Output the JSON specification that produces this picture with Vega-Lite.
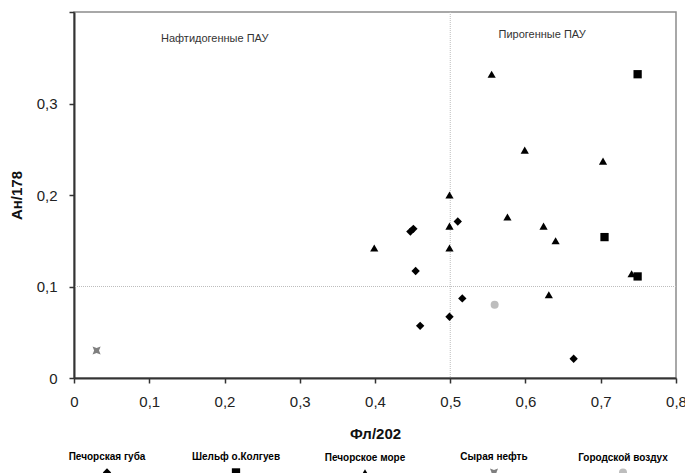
{
  "$schema": "https://vega.github.io/schema/vega-lite/v6.json",
  "width": 602,
  "height": 366,
  "autosize": {"type": "none"},
  "padding": {"left": 74, "top": 12, "right": 9, "bottom": 95},
  "background": "white",
  "config": {
    "font": "Liberation Sans",
    "view": {"stroke": "#8c8c8c", "strokeWidth": 1.5},
    "style": {"guide-label": {"lineHeight": 30}},
    "axis": {
      "domainColor": "#333333",
      "domainWidth": 2,
      "tickColor": "#333333",
      "tickWidth": 1.5,
      "tickSize": 5,
      "grid": false,
      "labelFlush": false,
      "labelOverlap": false,
      "labelFont": "Liberation Sans",
      "labelFontSize": 15,
      "labelColor": "#222222",
      "titleFont": "Liberation Sans",
      "titleFontSize": 15,
      "titleFontWeight": "bold",
      "titleColor": "#111111"
    },
    "axisX": {"labelPadding": 11, "titlePadding": 17},
    "axisY": {"labelPadding": 12, "titlePadding": 12},
    "legend": {"padding": 0}
  },
  "layer": [
    {
      "data": {"values": [{"x": 0.5}]},
      "mark": {"type": "rule", "color": "#bdbdbd", "strokeDash": [1, 1], "strokeWidth": 1},
      "encoding": {
        "x": {
          "field": "x", "type": "quantitative",
          "scale": {"domain": [0, 0.8], "nice": false, "zero": false},
          "axis": {"values": [0, 0.1, 0.2, 0.3, 0.4, 0.5, 0.6, 0.7, 0.8], "labelExpr": "datum.value == 0 ? '0' : replace(format(datum.value, '.1f'), '.', ',')"},
          "title": "Фл/202"
        }
      }
    },
    {
      "data": {"values": [{"y": 0.1}]},
      "mark": {"type": "rule", "color": "#bdbdbd", "strokeDash": [1, 1], "strokeWidth": 1},
      "encoding": {
        "y": {
          "field": "y", "type": "quantitative",
          "scale": {"domain": [0, 0.4], "nice": false, "zero": false},
          "axis": {"values": [0, 0.1, 0.2, 0.3, 0.4], "labelExpr": "datum.value > 0.35 ? '' : (datum.value == 0 ? '0' : replace(format(datum.value, '.1f'), '.', ','))"},
          "title": "Ан/178"
        }
      }
    },
    {
      "data": {"values": [
        {"x": 0.187, "y": 0.371, "label": "Нафтидогенные ПАУ"},
        {"x": 0.622, "y": 0.375, "label": "Пирогенные ПАУ"}
      ]},
      "mark": {"type": "text", "fontSize": 11, "color": "#333333", "font": "Liberation Sans"},
      "encoding": {
        "x": {"field": "x", "type": "quantitative", "title": "Фл/202"},
        "y": {"field": "y", "type": "quantitative", "title": "Ан/178"},
        "text": {"field": "label"}
      }
    },
    {
      "data": {"values": [
        {"group": "Печорская губа", "x": 0.510, "y": 0.171},
        {"group": "Печорская губа", "x": 0.447, "y": 0.160},
        {"group": "Печорская губа", "x": 0.451, "y": 0.163},
        {"group": "Печорская губа", "x": 0.454, "y": 0.117},
        {"group": "Печорская губа", "x": 0.516, "y": 0.087},
        {"group": "Печорская губа", "x": 0.499, "y": 0.067},
        {"group": "Печорская губа", "x": 0.460, "y": 0.057},
        {"group": "Печорская губа", "x": 0.664, "y": 0.021},
        {"group": "Шельф о.Колгуев", "x": 0.749, "y": 0.332},
        {"group": "Шельф о.Колгуев", "x": 0.705, "y": 0.154},
        {"group": "Шельф о.Колгуев", "x": 0.749, "y": 0.111},
        {"group": "Печорское море", "x": 0.555, "y": 0.332},
        {"group": "Печорское море", "x": 0.599, "y": 0.249},
        {"group": "Печорское море", "x": 0.703, "y": 0.237},
        {"group": "Печорское море", "x": 0.499, "y": 0.200},
        {"group": "Печорское море", "x": 0.576, "y": 0.176},
        {"group": "Печорское море", "x": 0.499, "y": 0.166},
        {"group": "Печорское море", "x": 0.624, "y": 0.166},
        {"group": "Печорское море", "x": 0.640, "y": 0.150},
        {"group": "Печорское море", "x": 0.399, "y": 0.142},
        {"group": "Печорское море", "x": 0.499, "y": 0.142},
        {"group": "Печорское море", "x": 0.741, "y": 0.114},
        {"group": "Печорское море", "x": 0.631, "y": 0.091},
        {"group": "Сырая нефть", "x": 0.030, "y": 0.030},
        {"group": "Городской воздух", "x": 0.559, "y": 0.080}
      ]},
      "mark": {"type": "point", "filled": true, "opacity": 1},
      "encoding": {
        "x": {"field": "x", "type": "quantitative", "title": "Фл/202"},
        "y": {"field": "y", "type": "quantitative", "title": "Ан/178"},
        "shape": {
          "field": "group", "type": "nominal",
          "scale": {
            "domain": ["Печорская губа", "Шельф о.Колгуев", "Печорское море", "Сырая нефть", "Городской воздух"],
            "range": ["diamond", "square", "triangle-up", "M-1,-1L0,-0.6L1,-1L0.6,0L1,1L0,0.6L-1,1L-0.6,0Z", "circle"]
          },
          "legend": {
            "orient": "none", "legendX": 28, "legendY": 455, "direction": "horizontal", "columns": 5,
            "gridAlign": "all", "columnPadding": 39, "title": null,
            "labelAlign": "center", "labelBaseline": "line-bottom", "labelOffset": -5, "labelFontSize": 10, "labelFontWeight": "bold",
            "labelFont": "Liberation Sans", "labelColor": "#000000",
            "symbolSize": 70, "labelLimit": 200
          }
        },
        "color": {
          "field": "group", "type": "nominal",
          "scale": {
            "domain": ["Печорская губа", "Шельф о.Колгуев", "Печорское море", "Сырая нефть", "Городской воздух"],
            "range": ["#000000", "#000000", "#000000", "#7f7f7f", "#bdbdbd"]
          },
          "legend": {
            "orient": "none", "legendX": 28, "legendY": 455, "direction": "horizontal", "columns": 5,
            "gridAlign": "all", "columnPadding": 39, "title": null,
            "labelAlign": "center", "labelBaseline": "line-bottom", "labelOffset": -5, "labelFontSize": 10, "labelFontWeight": "bold",
            "labelFont": "Liberation Sans", "labelColor": "#000000",
            "symbolSize": 70, "labelLimit": 200
          }
        },
        "size": {
          "field": "group", "type": "nominal",
          "scale": {
            "domain": ["Печорская губа", "Шельф о.Колгуев", "Печорское море", "Сырая нефть", "Городской воздух"],
            "range": [70, 64, 85, 81, 121]
          },
          "legend": null
        }
      }
    }
  ]
}
